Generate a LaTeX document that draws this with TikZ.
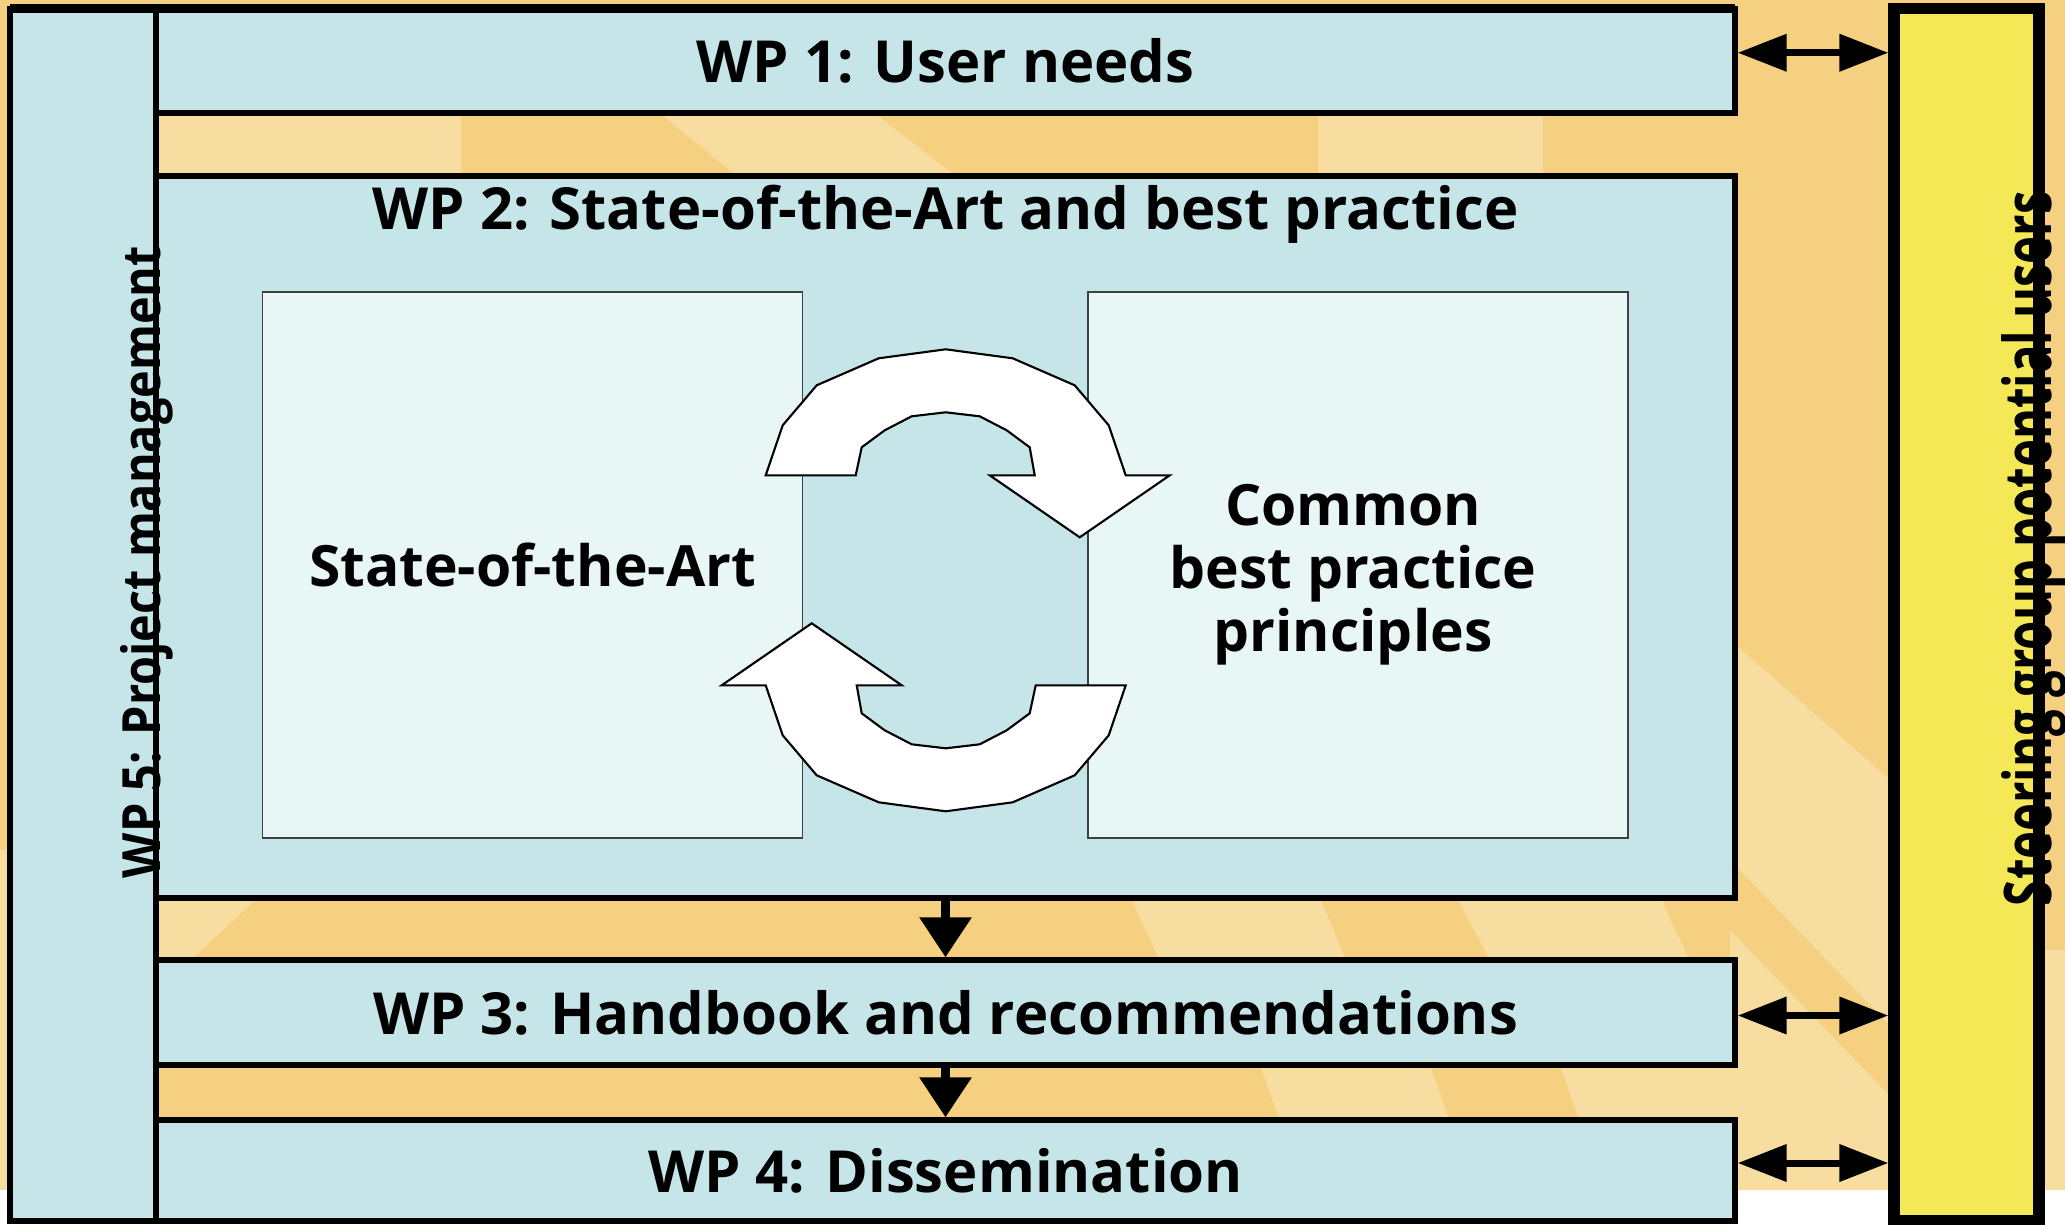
\documentclass[tikz,border=0pt]{standalone}
\usepackage{fontspec}
\setmainfont{Open Sans}
\usepackage{graphicx}
\usetikzlibrary{arrows.meta}
\usetikzlibrary{positioning}
\definecolor{wpblue}{HTML}{C5E5E8}
\definecolor{innerblue}{HTML}{E9F6F6}
\definecolor{steeryellow}{HTML}{F5E856}
\definecolor{bgorange}{HTML}{F5D080}
\definecolor{bglight}{HTML}{F8DDA0}

\begin{document}
\begin{tikzpicture}[
 wpbox/.style={draw=black, line width=1.5pt, fill=wpblue, minimum width=15.79cm, inner sep=0pt, font=\fontsize{16.5}{20}\selectfont\bfseries},
 innerbox/.style={draw=black!75, line width=0.4pt, fill=innerblue, minimum width=5.4cm, minimum height=5.46cm, font=\fontsize{16.2}{17.9}\selectfont\bfseries, align=center},
 flow/.style={line width=2.6pt, -{Triangle[length=4mm,width=5mm]}},
 link/.style={line width=2pt, {Triangle[length=4.9mm,width=3.6mm]}-{Triangle[length=4.9mm,width=3.6mm]}},
 cyclearrow/.style={fill=white, draw=black, line width=0.6pt, line join=miter}
]
\useasboundingbox (0,0) rectangle (20.65,-12.24);
% background
\fill[bgorange] (0,0) rectangle (20.65,-11.9);
\fill[bglight] (1.56,-1.0) rectangle (4.61,-1.9);
\fill[bglight] (6.44,-1.0) -- (8.57,-1.0) -- (9.74,-1.9) -- (7.54,-1.9) -- cycle;
\fill[bglight] (13.18,-1.0) rectangle (15.43,-1.9);
\fill[bglight] (0.1,-8.9) -- (2.66,-8.9) -- (1.80,-9.7) -- (0.1,-9.7) -- cycle;
\fill[bglight] (11.27,-8.9) -- (13.17,-8.9) -- (13.50,-9.7) -- (11.64,-9.7) -- cycle;
\fill[bglight] (14.53,-8.9) -- (16.57,-8.9) -- (16.94,-9.7) -- (14.95,-9.7) -- cycle;
\fill[bglight] (12.58,-10.6) -- (14.28,-10.6) -- (14.53,-11.3) -- (12.83,-11.3) -- cycle;
\fill[bglight] (15.58,-10.6) -- (17.4,-10.6) -- (17.4,-11.3) -- (15.83,-11.3) -- cycle;
\fill[bglight] (17.3,-6.4) -- (18.94,-7.83) -- (18.94,-11.9) -- (17.3,-11.9) -- cycle;
\fill[bgorange] (17.3,-8.6) -- (17.3,-9.3) -- (18.94,-11.0) -- (18.94,-10.3) -- cycle;
\fill[bglight] (0,-8.5) rectangle (0.1,-11.9);
\fill[bglight] (20.3,-9.5) rectangle (20.65,-11.9);

% work packages
\node (wp5) [wpbox, minimum width=1.46cm, minimum height=12.125cm] at (0.83,-6.1475) {};
\node (wp1) [wpbox, minimum height=1.045cm] at (9.455,-0.6075) {WP 1: User needs};
\node (wp2) [wpbox, minimum height=7.22cm] at (9.455,-5.37) {};
\node (wp3) [wpbox, minimum height=1.05cm] at (9.455,-10.125) {WP 3: Handbook and recommendations};
\node (wp4) [wpbox, minimum height=1.01cm] at (9.455,-11.705) {WP 4: Dissemination};
\node (steer) [draw, line width=3.2pt, fill=steeryellow, minimum width=1.45cm, minimum height=12.125cm, inner sep=0pt] at (19.665,-6.1475) {};
\draw[line width=2.6pt] (0.1,-0.085) -- (17.35,-0.085);

\node (wp2title) [font=\fontsize{16.5}{20}\selectfont\bfseries] at ([yshift=-4.1mm]wp2.north) {WP 2: State-of-the-Art and best practice};
\node (soa) [innerbox] at (5.325,-5.65) {State-of-the-Art};
\node (bp) [innerbox] at (13.58,-5.65) {};
\node (bptext) [font=\fontsize{16.2}{17.9}\selectfont\bfseries, align=center] at ([xshift=-0.05cm, yshift=-0.1cm]bp.center) {Common\\best practice\\principles};

% cycle between the two inner boxes
\foreach \r in {0,180}
 \filldraw[cyclearrow, shift={(9.457,-5.803)}, rotate=\r] (-1.8,1.05) -- (-1.63,1.55) -- (-1.29,1.95) -- (-0.67,2.22) -- (0,2.31) -- (0.67,2.22) -- (1.29,1.95) -- (1.63,1.55) -- (1.8,1.05) -- (2.24,1.05) -- (1.34,0.43) -- (0.44,1.05) -- (0.89,1.05) -- (0.84,1.33) -- (0.61,1.5) -- (0.34,1.64) -- (0,1.68) -- (-0.34,1.64) -- (-0.61,1.5) -- (-0.84,1.33) -- (-0.9,1.05) -- cycle;

% side labels
\node (wp5label) [rotate=90, anchor=base, inner sep=0pt, font=\fontsize{15}{18}\selectfont\bfseries] at (1.60,-5.62) {\resizebox{6.32cm}{\height}{WP 5: Project management}};
\node (steerlabel) [rotate=90, anchor=base, inner sep=0pt, font=\fontsize{18.7}{22}\selectfont\bfseries] at (20.51,-5.485) {\resizebox{7.15cm}{\height}{Steering group potential users}};

% arrows
\draw[flow] (wp2) -- (wp3);
\draw[flow] (wp3) -- (wp4);
\foreach \n/\dy in {wp1/0.08,wp3/-0.03,wp4/0.075}
 \draw[link] ([yshift=\dy cm]\n.east) -- ([yshift=\dy cm]\n.east -| steer.west);
\end{tikzpicture}
\end{document}
